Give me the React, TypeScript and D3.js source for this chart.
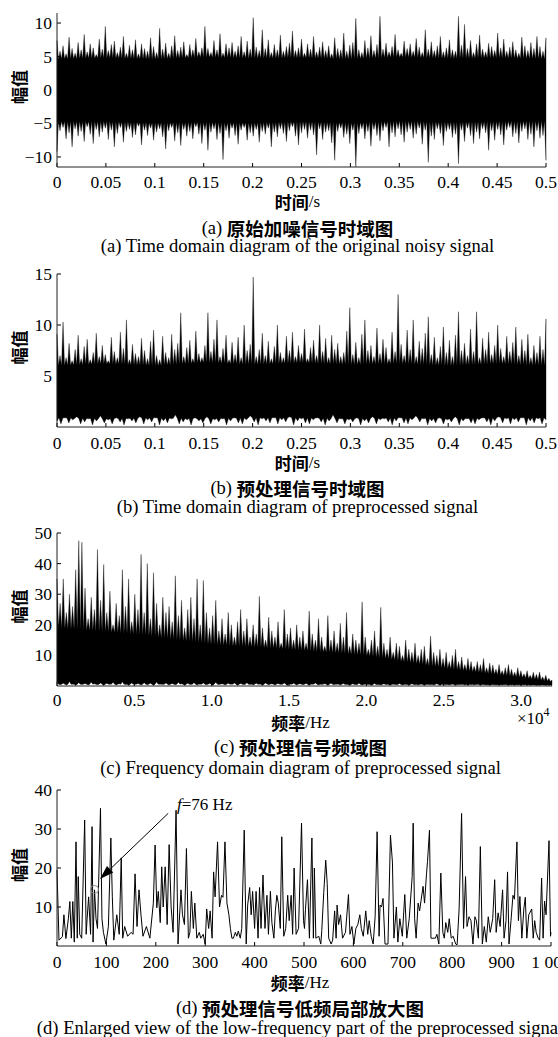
import React from 'react';
import * as d3 from 'd3';

// ---------------- DATA ----------------
// (a) original noisy signal: successive positive peaks / negative troughs
const sigAHi = [7.4,5.8,6.6,5.4,7.9,6.2,5.5,7.1,6.0,8.3,5.7,6.9,6.3,5.3,7.6,6.1,9.5,5.9,6.8,7.3,5.6,6.4,8.0,5.5,6.7,6.0,7.5,5.4,6.9,6.2,5.8,7.8,6.5,5.6,9.2,6.1,7.0,5.5,6.6,8.1,5.9,6.4,7.2,5.3,6.8,6.0,7.7,5.7,6.3,9.5,6.2,5.6,7.4,6.0,8.4,5.5,6.9,6.3,7.1,5.8,6.6,8.0,5.7,7.3,6.1,10.8,6.4,5.9,9.0,6.2,7.5,5.6,6.8,6.0,8.2,5.8,6.5,7.0,8.8,5.9,6.3,7.6,5.5,6.9,6.1,8.0,5.7,6.4,7.2,5.9,6.6,5.4,7.8,6.2,6.0,8.5,5.8,6.7,7.1,10.7,6.0,5.6,7.4,6.3,8.1,5.9,6.8,11.0,6.1,7.0,5.7,6.5,8.3,6.0,5.5,7.3,6.2,6.9,5.8,7.7,6.4,5.6,9.0,6.1,7.2,5.9,6.6,8.0,5.7,6.3,7.5,6.0,5.8,11.0,6.7,9.8,6.2,7.4,5.6,6.9,8.2,6.1,5.7,7.0,6.5,5.9,8.5,6.3,7.6,5.8,6.4,7.2,6.0,5.5,7.9,6.6,5.9,7.1,6.2,8.0,6.5,5.8,7.8];
const sigALo = [-9.2,-6.1,-5.6,-7.3,-6.4,-8.5,-5.8,-6.9,-6.2,-7.7,-5.5,-6.6,-8.0,-5.9,-7.0,-6.3,-5.7,-7.4,-6.0,-8.5,-6.5,-5.6,-7.8,-6.2,-5.9,-7.1,-6.7,-5.4,-8.2,-6.0,-6.8,-5.7,-7.5,-6.3,-5.8,-7.0,-8.8,-6.1,-5.6,-7.6,-6.4,-8.3,-5.9,-6.9,-6.2,-7.3,-5.5,-6.6,-8.0,-6.0,-9.0,-6.3,-5.8,-7.4,-6.5,-10.4,-6.1,-7.2,-5.7,-6.8,-8.1,-6.0,-5.6,-7.5,-6.4,-6.9,-5.9,-7.8,-6.2,-6.6,-5.7,-8.5,-6.3,-7.0,-5.8,-6.5,-7.7,-6.1,-5.5,-6.9,-8.2,-6.4,-5.9,-7.2,-6.0,-6.7,-9.7,-5.8,-7.4,-6.3,-6.1,-7.9,-10.5,-6.2,-5.7,-7.1,-6.6,-8.0,-6.0,-11.5,-6.5,-5.8,-7.3,-6.2,-8.4,-5.9,-6.8,-7.6,-6.1,-5.6,-8.5,-6.4,-7.0,-5.8,-6.7,-7.8,-6.3,-5.9,-7.2,-6.6,-5.7,-8.1,-6.0,-10.8,-6.9,-7.4,-5.8,-6.5,-8.3,-6.2,-5.9,-7.1,-6.6,-11.0,-6.0,-7.7,-5.7,-6.8,-8.0,-6.3,-7.3,-5.8,-6.4,-9.0,-6.1,-7.5,-5.9,-6.7,-8.2,-6.0,-5.6,-7.0,-6.5,-7.9,-6.2,-5.8,-7.4,-6.6,-8.5,-6.1,-7.2,-6.8,-10.5];
const coreTime = [0,0.05,0.1,0.15,0.2,0.25,0.3,0.35,0.4,0.45,0.5];
const coreAHi = [4.6,4.8,4.6,4.9,4.7,4.8,4.6,4.9,4.7,4.8,4.6];
const coreALo = [-4.7,-4.7,-4.9,-4.8,-4.9,-4.7,-4.9,-4.6,-4.8,-4.7,-4.6];

// (b) preprocessed signal
const sigBHi = [9.1,7.0,10.3,6.8,8.2,6.5,7.6,9.0,6.7,7.9,8.6,6.6,7.3,9.2,6.9,8.0,7.1,6.5,8.8,7.4,6.8,9.3,7.7,10.5,6.6,8.1,7.2,6.9,8.7,7.5,6.7,8.4,9.5,7.0,6.6,8.9,7.3,6.8,9.1,7.6,8.2,11.2,6.9,7.8,8.5,6.7,9.4,7.2,6.8,8.0,11.2,7.4,8.6,10.5,6.9,7.7,9.0,6.6,8.3,7.1,8.8,6.8,10.0,7.5,8.1,14.7,6.9,7.6,9.2,7.0,8.4,6.7,7.9,10.0,7.3,6.8,8.9,7.5,9.3,6.9,8.0,7.2,9.6,6.7,7.8,8.5,7.0,10.0,7.4,8.7,6.8,9.0,7.6,8.2,6.9,7.3,9.4,11.7,7.1,8.3,6.8,9.1,10.5,7.5,8.0,6.9,9.7,7.2,8.6,7.8,6.7,9.3,7.4,13.0,8.1,7.0,9.5,7.6,10.5,6.9,8.4,7.7,9.2,10.8,7.1,8.8,6.8,7.9,9.8,7.3,8.5,6.9,9.0,11.3,7.5,8.2,7.0,9.6,7.4,11.3,6.8,8.7,7.6,9.3,7.1,8.0,10.0,7.7,6.9,8.9,7.4,8.3,9.8,7.0,8.6,7.5,9.1,6.8,8.0,7.3,8.9,7.6,10.6];
const sigBLo = [0.6,0.3,0.9,0.4,0.7,1.0,0.3,0.5,0.8,0.2,0.6,1.1,0.4,0.7,0.3,0.9,0.5,0.2,0.8,0.6,0.4,1.0,0.3,0.7,0.5,0.9,0.2,0.6,0.4,0.8,1.2,0.3,0.5,0.7,0.2,0.9,0.6,0.4,1.0,0.3,0.7,0.5,0.8,0.2,0.6,0.9,0.4,0.3,0.7,1.1,0.5,0.2,0.8,0.6,0.4,0.9,0.3,0.7,0.5,1.0,0.2,0.6,0.8,0.4,0.3,0.7,0.9,0.5,0.2,0.6,1.2,0.4,0.8,0.3,0.7,0.5,0.9,0.2,0.6,0.4,1.0,0.3,0.7,0.8,0.5,0.2,0.6,0.9,0.4,0.3,0.7,1.1,0.5,0.8,0.2,0.6,0.4,0.9,0.3,0.7,0.5,1.0,0.2,0.6,0.8,0.4,0.3,0.7,0.9,0.5,0.2,0.6,1.0,0.4,0.8,0.3,0.7,0.5,0.9,0.2,0.6,0.4,0.8,0.3,0.7];
const coreBHi = [6.0,6.2,6.0,6.3,6.1,6.3,6.1,6.2,6.0,6.2,6.0];
const coreBLo = [0.9,0.8,0.9,0.8,0.9,0.9,0.8,0.9,0.8,0.9,0.9];

// (c) spectrum of preprocessed signal (0 - 32 000 Hz)
const specCHi = [35,27,35,24,30,26,38,47.5,47,32,22,29,25,44.6,28,39.7,24,31,20,27,23,38,26,35,21,30,25,43,24,40,22,37,27,20,29,24,26,21,36,23,28,19,25,29,22,35,20,34.5,24,19,23,28,18,22,17,24,20,16,21,25,18,22,16,20,17,29.3,19,15,22.5,18,16,21,14,25,17,19,15,20,16,18,14,24.5,17,15,22,16,13,23,15,18,14,20.5,16,24,13,17,15,14,27.5,16,12,15,18,13,25.7,14,12,16,11,14,13,10,15,12,11,14,10,12,13,9,16.3,11,10,12,9,11,8,10,12,8,9.5,7,9,8,6.5,8,7,9,6,7.5,6.9,5.5,7,5,6,7,5.5,4.5,6,5,4,5,3.5,4.5,3.8,4.6,3,3.5,2.5,2];
const specCLo = [1.2,0.4,0.9,0.3,1.5,0.6,0.2,1.1,0.5,0.8,0.3,1.3,0.7,0.4,1.0,0.2,0.9,0.6,1.2,0.3,0.7,1.4,0.5,0.2,1.0,0.6,0.8,0.3,1.1,0.4,0.9,0.2,1.3,0.6,0.5,1.0,0.3,0.8,0.4,1.2,0.7,0.2,0.9,0.5,1.1,0.3,0.6,1.0,0.4,0.8,0.2,1.2,0.5,0.7,0.3,0.9,0.6,1.0,0.2,0.8,0.4,1.1,0.5,0.3,0.9,0.6,0.2,1.0,0.4,0.7,0.3,0.8,0.5,1.0,0.2,0.6,0.9,0.3,0.7,0.4,0.8,0.2,0.6,1.0,0.3,0.5,0.7,0.2,0.9,0.4,0.6,0.3,0.8,0.5,0.2,0.7,0.4,0.9,0.3,0.6,0.5,0.2,0.8,0.4,0.3,0.7,0.5,0.2,0.6,0.4,0.8,0.3,0.5,0.2,0.7,0.4,0.3,0.6,0.2,0.5,0.4,0.3,0.7,0.2,0.5,0.4,0.3,0.6,0.2,0.4,0.5,0.3,0.2,0.4,0.3,0.5,0.2,0.4,0.3,0.2,0.4,0.3,0.2,0.3,0.4,0.2,0.3,0.2,0.3,0.2,0.3,0.2,0.2,0.3,0.2,0.2,0.3,0.2,0.2,0.1];
const coreFreqC = [0,5000,10000,15000,20000,25000,30000,32000];
const coreCHi = [19,17,13.5,12,10,5.8,2.8,1.4];
const coreCLo = [0.6,0.6,0.6,0.6,0.5,0.5,0.4,0.3];

// (d) low-frequency enlarged spectrum
const dFreq = [0,4,11,14,18,23,26,29,32,35,38.5,41,43,46,50,56,59,61,64,68,71,73,76,79,82,88,91,94,99,104,109,112,115,121,126,130,133,137,143,150,154,158,162,166,170,174,181,188,195,198.6,202,205,209,212,215,219,223,227,231,235,241,245,251,254,258,262,266,269,272,276,279,283,288,291,296,300,303,307,310,314,317,320,325,329,333,336,340,344,348,351,354,357,361,364,367,371,374,379,383,386,390,393,396,400,403,407,410,413,417,421,425,428,432,435,439,442,445,448,452,455,459,463,467,470,474,477,480,484,489,495,499,501,503,507,511,516,519,521,524,530,534,536,540,544,547,550,555,558,562,565,567,570,574,578,584,590,593,597,601,605,609,613,616,620,625,629,632,636,640,644,648,652,654,657,660,664,670,675,679,682,687,690,694,699,704,708,713,719,721,724,727,731,734,741,744,748,750,754,757,761,766,769,773,777,781,784,787,791,794,798,802,807,810,814,819,823,827,830,834,838,842,846,849,853,857,861,865,869,873,877,882,886,889,893,897,902,905,909,912,915,919,923,926,931,934,937,941,945,948,951,955,961,964,967,970,974,977,981,984,987,990,996,999,1000];
const dAmp = [19.5,1.5,2.4,8,1.9,7,11.4,2,11.4,1,26.7,2,17.8,3,2,32.3,3,7,12.6,3,30.6,1,14.4,7,4.5,35.3,7,3.5,0.5,5,27.7,12.6,1.5,8,3,22.6,2,5,2.5,3.5,3,18.5,5,14.4,8,2.5,5,2,11,25.9,9.8,14,6,20.3,10,20.3,5.5,26,10,3.5,34.8,0.5,14.4,8,5.5,25,2,3.5,14,4.5,11,2,3.5,2,3,0.5,9.5,4.5,9,2,19,12.6,26.7,10,13,12.5,26.7,11,8,4.5,2,2,3.5,2.5,3.8,2,4.5,29.7,0.5,10.5,15,8,14,4.5,14,2,15,4.5,18.2,4.5,13,3,14,6,2,9,13,11,4.5,28,2.5,4.5,13,6.5,13,3,20,3,4.5,31.5,6.5,4.5,9.4,17,2,27.7,2,20,2,2.5,0.5,4,13.7,22,16,2,0.5,1.5,9,2,10.5,5.5,8,2,3.5,13.2,3,5,0.5,4.5,5.5,8,4.5,2.5,9,3,6.5,2.5,0.5,7.5,29.3,2.5,10.5,10,12.2,0.5,0.5,28.4,21.5,2,10,1,7,2.5,13.2,2,7,17.8,31.5,7,2,11,9,15.3,11,18.5,21.6,29.7,2,2,2,3,0.5,18.7,3.5,2,6,3.5,7,2,2.5,0.5,0.3,9.5,34,4.5,17.8,5,7.5,6.5,0.5,7.5,6.5,2,25.5,0.5,5,1,7.5,3.5,7,17,3.5,8.5,5,14.4,2,6.5,19,0.5,6.5,13,12,26.7,6.5,12.7,2,9.5,12.5,2,8,9.5,2,6.5,3.5,2,1.5,17.4,2,11.5,8,27,2.5,3.5];

// ticks
const xTicksTime = ['0','0.05','0.1','0.15','0.2','0.25','0.3','0.35','0.4','0.45','0.5'];
const xTicksC = ['0','0.5','1.0','1.5','2.0','2.5','3.0'];
const xTicksD = ['0','100','200','300','400','500','600','700','800','900','1 000'];
const yTicksA = [-10,-5,0,5,10];
const yTicksB = [5,10,15];
const yTicksC = [10,20,30,40,50];
const yTicksD = [10,20,30,40];

// ---------------- RENDER ----------------
const SERIF = '"Liberation Serif", "Times New Roman", serif';
const CJK = '"Noto Sans CJK SC", sans-serif';

type Sc = d3.ScaleLinear<number, number>;

type PanelProps = {
  left: number; right: number; top: number; bottom: number;
  xMax: number; yDomain: [number, number];
  xTickLabels: string[]; xTickValue: (s: string) => number;
  yTicks: number[];
  tickY: number; xLabelY: number; capZhY: number; capEnY: number;
  xLabelZh: string; xLabelUnit: string;
  capTag: string; capZh: string; capEn: string;
  children: (x: Sc, y: Sc) => React.ReactNode;
  extra?: (x: Sc, y: Sc) => React.ReactNode;
};

function Panel(p: PanelProps) {
  const x = d3.scaleLinear().domain([0, p.xMax]).range([p.left, p.right]);
  const y = d3.scaleLinear().domain(p.yDomain).range([p.bottom, p.top]);
  const cx = (p.left + p.right) / 2 - 4;
  const fmtY = (v: number) => (v < 0 ? '\u2212' + Math.abs(v) : String(v));
  return (
    <g>
      {p.xTickLabels.map((s) => {
        const xv = x(p.xTickValue(s));
        return <line key={'xt' + s} x1={xv} x2={xv} y1={p.bottom} y2={p.bottom - 4} stroke="#000" strokeWidth={1} />;
      })}
      {p.yTicks.map((v) => (
        <line key={'yt' + v} x1={p.left} x2={p.left + 4} y1={y(v)} y2={y(v)} stroke="#000" strokeWidth={1} />
      ))}
      {p.children(x, y)}
      <line x1={p.left} x2={p.left} y1={p.top} y2={p.bottom} stroke="#222" strokeWidth={1} />
      <line x1={p.left} x2={p.right} y1={p.bottom} y2={p.bottom} stroke="#222" strokeWidth={1} />
      {p.xTickLabels.map((s) => (
        <text key={'xl' + s} x={x(p.xTickValue(s))} y={p.tickY} textAnchor="middle" dominantBaseline="central"
          fontFamily={SERIF} fontSize={17.5}>{s}</text>
      ))}
      {p.yTicks.map((v) => (
        <text key={'yl' + v} x={p.left - 5} y={y(v)} textAnchor="end" dominantBaseline="central"
          fontFamily={SERIF} fontSize={17.5}>{fmtY(v)}</text>
      ))}
      <text transform={`translate(18,${(p.top + p.bottom) / 2 - 3}) rotate(-90)`} textAnchor="middle" dominantBaseline="central"
        fontFamily={CJK} fontWeight={700} fontSize={17}>幅值</text>
      <text x={cx} y={p.xLabelY} textAnchor="middle" dominantBaseline="central" fontSize={17}>
        <tspan fontFamily={CJK} fontWeight={700}>{p.xLabelZh}</tspan>
        <tspan fontFamily={SERIF}>{p.xLabelUnit}</tspan>
      </text>
      <text x={cx} y={p.capZhY} textAnchor="middle" dominantBaseline="central" fontSize={18.5}>
        <tspan fontFamily={SERIF}>{p.capTag + ' '}</tspan>
        <tspan fontFamily={CJK} fontWeight={700}>{p.capZh}</tspan>
      </text>
      <text x={cx} y={p.capEnY} textAnchor="middle" dominantBaseline="central" fontFamily={SERIF} fontSize={18.6}>
        {p.capTag + ' ' + p.capEn}
      </text>
      {p.extra ? p.extra(x, y) : null}
    </g>
  );
}

// dense signal: filled band whose edges run through every peak (hi) and trough (lo),
// dipping back to the dense core level between neighbouring peaks
function Dense(props: { x: Sc; y: Sc; hi: number[]; lo: number[]; xMax: number; coreX: number[]; coreHi: number[]; coreLo: number[] }) {
  const { x, y, hi, lo, xMax, coreX, coreHi, coreLo } = props;
  const cHi = d3.scaleLinear().domain(coreX).range(coreHi);
  const cLo = d3.scaleLinear().domain(coreX).range(coreLo);
  const pts: [number, number][] = [];
  const dh = xMax / (hi.length - 1);
  hi.forEach((v, i) => {
    const t = i * dh;
    pts.push([x(t), y(v)]);
    if (i < hi.length - 1) pts.push([x(t + dh / 2), y(cHi(t + dh / 2))]);
  });
  const dl = xMax / (lo.length - 1);
  for (let i = lo.length - 1; i >= 0; i--) {
    const t = i * dl;
    pts.push([x(t), y(lo[i])]);
    if (i > 0) pts.push([x(t - dl / 2), y(cLo(t - dl / 2))]);
  }
  const path = d3.line().curve(d3.curveLinearClosed)(pts) || '';
  return <path d={path} fill="#000" stroke="#000" strokeWidth={0.35} strokeLinejoin="miter" />;
}

export default function App() {
  return (
    <svg width={558} height={1037} style={{ position: 'absolute', left: 0, top: 0, background: '#fff' }}>
      <rect x={0} y={0} width={558} height={1037} fill="#fff" />
      <Panel left={57} right={546} top={13} bottom={167} xMax={0.5} yDomain={[-11.5, 11.5]}
        xTickLabels={xTicksTime} xTickValue={(s) => parseFloat(s)} yTicks={yTicksA}
        tickY={182} xLabelY={201} capZhY={228} capEnY={245}
        xLabelZh="时间" xLabelUnit="/s" capTag="(a)" capZh="原始加噪信号时域图"
        capEn="Time domain diagram of the original noisy signal">
        {(x, y) => <Dense x={x} y={y} hi={sigAHi} lo={sigALo} xMax={0.5} coreX={coreTime} coreHi={coreAHi} coreLo={coreALo} />}
      </Panel>
      <Panel left={57} right={546} top={274} bottom={427} xMax={0.5} yDomain={[0, 15]}
        xTickLabels={xTicksTime} xTickValue={(s) => parseFloat(s)} yTicks={yTicksB}
        tickY={443} xLabelY={462} capZhY={488} capEnY={506}
        xLabelZh="时间" xLabelUnit="/s" capTag="(b)" capZh="预处理信号时域图"
        capEn="Time domain diagram of preprocessed signal">
        {(x, y) => <Dense x={x} y={y} hi={sigBHi} lo={sigBLo} xMax={0.5} coreX={coreTime} coreHi={coreBHi} coreLo={coreBLo} />}
      </Panel>
      <Panel left={57} right={552} top={533} bottom={686} xMax={32000} yDomain={[0, 50]}
        xTickLabels={xTicksC} xTickValue={(s) => parseFloat(s) * 1e4} yTicks={yTicksC}
        tickY={700} xLabelY={722} capZhY={747} capEnY={767}
        xLabelZh="频率" xLabelUnit="/Hz" capTag="(c)" capZh="预处理信号频域图"
        capEn="Frequency domain diagram of preprocessed signal"
        extra={() => (
          <text x={517} y={718} dominantBaseline="central" fontFamily={SERIF} fontSize={17}>
            ×10<tspan fontSize={12} dy={-6}>4</tspan>
          </text>
        )}>
        {(x, y) => <Dense x={x} y={y} hi={specCHi} lo={specCLo} xMax={32000} coreX={coreFreqC} coreHi={coreCHi} coreLo={coreCLo} />}
      </Panel>
      <Panel left={57} right={551} top={790} bottom={946} xMax={1000} yDomain={[0, 40]}
        xTickLabels={xTicksD} xTickValue={(s) => parseFloat(s.replace(' ', ''))} yTicks={yTicksD}
        tickY={962} xLabelY={982} capZhY={1008} capEnY={1027}
        xLabelZh="频率" xLabelUnit="/Hz" capTag="(d)" capZh="预处理信号低频局部放大图"
        capEn="Enlarged view of the low-frequency part of the preprocessed signal"
        extra={(x, y) => {
          const ax0 = x(225), ay0 = y(34), ax1 = x(87), ay1 = y(17.2);
          const ang = Math.atan2(ay1 - ay0, ax1 - ax0);
          const L = 14, Wd = 4.5;
          const bx = ax1 - L * Math.cos(ang), by = ay1 - L * Math.sin(ang);
          const p1 = [bx + Wd * Math.sin(ang), by - Wd * Math.cos(ang)];
          const p2 = [bx - Wd * Math.sin(ang), by + Wd * Math.cos(ang)];
          return (
            <g>
              <circle cx={x(76)} cy={y(14.5)} r={4} fill="none" stroke="#888" strokeWidth={1} />
              <line x1={ax0} y1={ay0} x2={bx} y2={by} stroke="#000" strokeWidth={1} />
              <polygon points={`${ax1},${ay1} ${p1[0]},${p1[1]} ${p2[0]},${p2[1]}`} fill="#000" />
              <text x={x(243)} y={y(36.4)} dominantBaseline="central" fontFamily={SERIF} fontSize={17}>
                <tspan fontStyle="italic">f</tspan>=76 Hz
              </text>
            </g>
          );
        }}>
        {(x, y) => {
          const line = d3.line<number>().x((_, i) => x(dFreq[i])).y((v) => y(v));
          return <path d={line(dAmp.slice(0, dFreq.length)) || ''} fill="none" stroke="#000" strokeWidth={1} />;
        }}
      </Panel>
    </svg>
  );
}
